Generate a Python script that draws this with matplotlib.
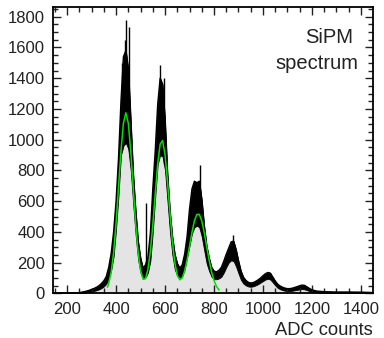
import numpy as np
import matplotlib.pyplot as plt

plt.rcParams['font.family'] = ['Liberation Sans', 'DejaVu Sans']

# histogram: low / high edge of the noisy band
adc = [150, 250, 260, 270, 280, 290, 300, 310, 320, 330, 340, 350, 360, 370, 380, 390,
       400, 410, 420, 430, 440, 450, 460, 470, 480, 490, 500, 510, 520, 530, 540, 550,
       560, 570, 580, 590, 600, 610, 620, 630, 640, 650, 660, 670, 680, 690, 700, 710,
       720, 730, 740, 750, 760, 770, 780, 790, 800, 810, 820, 830, 840, 850, 860, 870,
       880, 890, 900, 910, 920, 930, 940, 950, 960, 970, 980, 990, 1000, 1010, 1020, 1030,
       1040, 1050, 1060, 1070, 1080, 1090, 1100, 1110, 1120, 1130, 1140, 1150, 1160, 1170,
       1180, 1190, 1200, 1220, 1250, 1300, 1350, 1400, 1440, 1450]
counts_lo = [0, 0, 2, 4, 6, 9, 12, 16, 20, 26, 34, 45, 62, 95, 150, 240,
             420, 640, 900, 960, 980, 940, 800, 580, 380, 220, 135, 95, 105, 135, 210, 400,
             630, 840, 900, 890, 800, 600, 400, 250, 155, 115, 100, 110, 155, 235, 310, 390,
             430, 440, 430, 370, 280, 195, 145, 108, 92, 92, 97, 108, 135, 170, 200, 215,
             210, 175, 130, 88, 64, 52, 45, 43, 46, 52, 60, 70, 80, 90, 95, 90,
             72, 52, 36, 27, 21, 17, 15, 15, 17, 20, 23, 26, 28, 26,
             21, 14, 9, 5, 3, 2, 2, 2, 1, 1]
counts_hi = [3, 5, 8, 11, 15, 20, 26, 32, 40, 50, 64, 82, 110, 170, 260, 400,
             600, 880, 1250, 1540, 1580, 1460, 1130, 780, 540, 340, 230, 165, 185, 235, 390, 680,
             930, 1230, 1400, 1360, 1130, 780, 540, 370, 255, 195, 165, 185, 255, 370, 550, 680,
             730, 720, 730, 610, 440, 310, 230, 170, 145, 140, 150, 170, 210, 255, 295, 335,
             340, 285, 210, 145, 105, 85, 72, 68, 70, 78, 88, 100, 115, 128, 136, 132,
             106, 80, 60, 48, 40, 34, 31, 31, 34, 39, 44, 50, 54, 52,
             42, 32, 23, 15, 11, 9, 9, 8, 6, 5]

# single-bin spikes sticking out of the band
spike_adc = [426, 437, 441, 451, 522, 579, 595, 742, 879]
spike_top = [1500, 1650, 1780, 1735, 585, 1486, 1399, 835, 380]

# multi-peak fit curve (green)
fit_adc = [365, 370, 380, 390, 400, 410, 420, 430, 440, 450, 460, 470, 480, 490, 500,
           510, 520, 530, 540, 550, 560, 570, 580, 590, 600, 610, 620, 630, 640, 650,
           660, 670, 680, 690, 700, 710, 720, 730, 740, 750, 760, 770, 780, 790, 800,
           810, 820]
fit_counts = [41, 64, 138, 266, 454, 689, 926, 1107, 1175, 1107, 926, 689, 455, 270, 149,
              93, 95, 155, 272, 444, 648, 842, 971, 995, 904, 731, 525, 337, 199, 117,
              88, 100, 146, 218, 306, 397, 472, 514, 514, 472, 397, 306, 217, 140, 84,
              46, 23]

fig = plt.figure(figsize=(3.84, 3.38), dpi=100)
ax = fig.add_axes([0.139, 0.132, 0.8315, 0.848])

ax.fill_between(adc, 0, counts_lo, color='#e4e4e4', lw=0)
ax.fill_between(adc, counts_lo, counts_hi, color='black', lw=0.6)
ax.plot(adc, counts_hi, color='black', lw=1.0)
ax.vlines(spike_adc, np.interp(spike_adc, adc, counts_lo), spike_top, color='black', lw=1.0)
ax.plot(fit_adc, fit_counts, color='#00e000', lw=1.1)

ax.set_xlim(144, 1448)
ax.set_ylim(0, 1865)
ax.set_xticks(range(200, 1401, 200))
ax.set_yticks(range(0, 1801, 200))
ax.set_xticks(range(150, 1448, 50), minor=True)
ax.set_yticks(range(0, 1865, 50), minor=True)
ax.tick_params(which='both', direction='in', top=True, right=True, width=1.0,
               labelsize=12, colors='#222222')
ax.tick_params(which='major', length=6, pad=6)
ax.tick_params(which='minor', length=3.5)
for s in ax.spines.values():
    s.set_linewidth(1.3)

ax.set_xlabel('ADC counts', fontsize=13.2, loc='right', color='#222222', labelpad=4)
ax.text(0.94, 0.893, 'SiPM', transform=ax.transAxes, ha='right', va='center',
        fontsize=14.5, color='#222222')
ax.text(0.955, 0.802, 'spectrum', transform=ax.transAxes, ha='right', va='center',
        fontsize=14.5, color='#222222')

fig.savefig('out.png', dpi=100)
